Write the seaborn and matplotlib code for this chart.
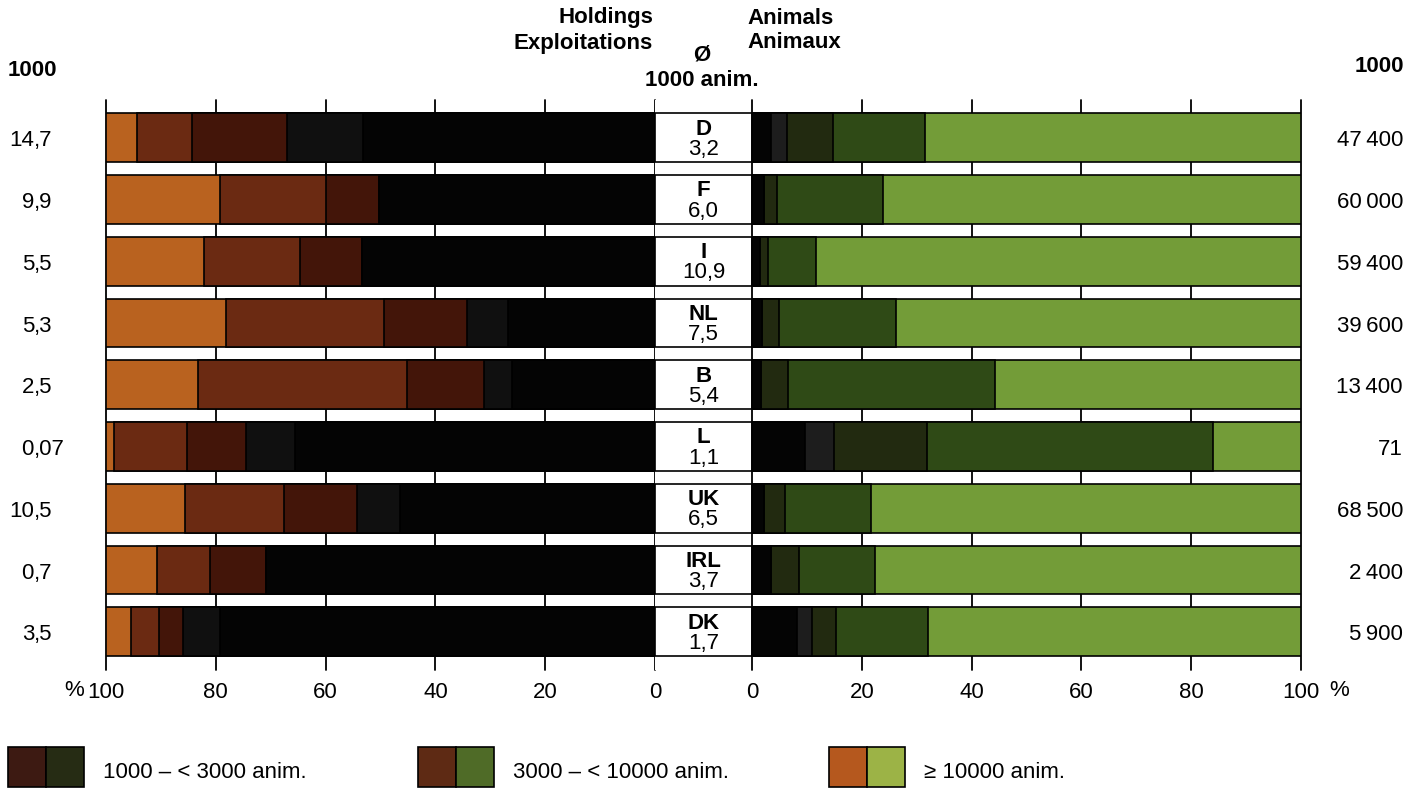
import numpy as np
import pandas as pd
import seaborn as sns
import matplotlib.pyplot as plt
from matplotlib.transforms import blended_transform_factory
from matplotlib.patches import Rectangle

# Laender und Kennzahlen
countries = ['D', 'F', 'I', 'NL', 'B', 'L', 'UK', 'IRL', 'DK']
avg_animals = ['3,2', '6,0', '10,9', '7,5', '5,4', '1,1', '6,5', '3,7', '1,7']
holdings_1000 = ['14,7', '9,9', '5,5', '5,3', '2,5', '0,07', '10,5', '0,7', '3,5']
animals_1000 = ['47\u2009400', '60\u2009000', '59\u2009400', '39\u2009600', '13\u2009400',
                '71', '68\u2009500', '2\u2009400', '5\u2009900']

# Holdings / Exploitations in % (vom Zentrum nach aussen)
hold_black = [53.2, 50.3, 53.3, 26.8, 26.0, 65.5, 46.4, 70.9, 79.3]
hold_grey = [13.9, 0.0, 0.0, 7.5, 5.1, 9.0, 7.8, 0.0, 6.6]
hold_1000 = [17.2, 9.7, 11.3, 15.0, 14.1, 10.8, 13.4, 10.1, 4.4]
hold_3000 = [10.0, 19.2, 17.5, 28.8, 38.0, 13.2, 18.1, 9.8, 5.1]
hold_10000 = [5.7, 20.8, 17.9, 21.9, 16.8, 1.5, 14.3, 9.2, 4.6]

# Animals / Animaux in %
anim_black = [3.4, 2.1, 1.4, 1.8, 1.6, 9.7, 2.2, 3.4, 8.2]
anim_grey = [3.0, 0.0, 0.0, 0.0, 0.0, 5.3, 0.0, 0.0, 2.7]
anim_1000 = [8.4, 2.4, 1.5, 3.1, 4.9, 16.8, 3.9, 5.1, 4.4]
anim_3000 = [16.8, 19.3, 8.7, 21.4, 37.7, 52.1, 15.6, 13.9, 16.7]
anim_10000 = [68.4, 76.2, 88.4, 73.7, 55.8, 16.1, 78.3, 77.6, 68.0]

pct_ticks = [0, 20, 40, 60, 80, 100]
legend_labels = ['1000 \u2013 < 3000 anim.', '3000 \u2013 < 10000 anim.', '\u2265 10000 anim.']

cols_left = ['#040404', '#101010', '#431509', '#6b2a12', '#b9621f']
cols_right = ['#040404', '#1d1d1d', '#222a10', '#2f4a16', '#739c38']
leg_left = ['#3d1a12', '#5e2a14', '#b5581e']
leg_right = ['#262c14', '#4f6b27', '#9cb346']

sns.set_style('white')
plt.rcParams['font.family'] = ['Liberation Sans', 'DejaVu Sans']
plt.rcParams['text.color'] = 'black'
plt.rcParams['xtick.color'] = 'black'
plt.rcParams['xtick.labelcolor'] = 'black'

W, H = 1418, 791
fig = plt.figure(figsize=(W / 100, H / 100), dpi=100)


def px(x, y, w, h):
    return [x / W, 1 - (y + h) / H, w / W, h / H]


ax_l = fig.add_axes(px(106, 100, 549, 570))
ax_m = fig.add_axes(px(655, 100, 97, 570))
ax_r = fig.add_axes(px(752, 100, 549, 570))

hold = pd.DataFrame({'land': countries, 'a': hold_black, 'b': hold_grey,
                     'c': hold_1000, 'd': hold_3000, 'e': hold_10000}).set_index('land')
anim = pd.DataFrame({'land': countries, 'a': anim_black, 'b': anim_grey,
                     'c': anim_1000, 'd': anim_3000, 'e': anim_10000}).set_index('land')


def stacked(ax, df, colors):
    cum = df.cumsum(axis=1)
    # aeusserstes Segment zuerst, dann die inneren darueber
    for col, c in zip(reversed(df.columns), reversed(colors)):
        sns.barplot(x=cum[col].values, y=countries, order=countries, orient='h',
                    color=c, width=0.79, edgecolor='black', linewidth=1.2,
                    saturation=1, ax=ax)


stacked(ax_l, hold, cols_left)
stacked(ax_r, anim, cols_right)

sns.barplot(x=[1] * len(countries), y=countries, order=countries, orient='h',
            color='white', width=0.79, edgecolor='black', linewidth=1.2,
            saturation=1, ax=ax_m)

ylim = (8.62, -0.61)
for ax in (ax_l, ax_m, ax_r):
    ax.set_ylim(*ylim)
    ax.set_ylabel('')
    ax.set_xlabel('')
    ax.set_yticks([])
    sns.despine(ax=ax, left=True, bottom=True)

ax_l.set_xlim(100, 0)
ax_r.set_xlim(0, 100)
ax_m.set_xlim(0, 1)
ax_m.set_xticks([])

for ax in (ax_l, ax_r):
    ax.set_xticks(pct_ticks)
    ax.set_xticklabels([str(t) for t in pct_ticks], fontsize=16, color='black')
    ax.tick_params(axis='x', length=0, pad=9)
    ax.grid(axis='x', color='black', linewidth=1.3)
    ax.set_axisbelow(True)
    for gl in ax.get_xgridlines():
        gl.set_clip_on(False)

for i, (code, val) in enumerate(zip(countries, avg_animals)):
    ax_m.text(0.5, i - 0.14, code, ha='center', va='center', fontsize=16, fontweight='bold')
    ax_m.text(0.5, i + 0.19, val, ha='center', va='center', fontsize=16)

tr = blended_transform_factory(fig.transFigure, ax_l.transData)
for i, (h, a) in enumerate(zip(holdings_1000, animals_1000)):
    whole, frac = h.split(',')
    ax_l.text(34 / W, i + 0.05, whole, ha='right', va='center', fontsize=16, transform=tr)
    ax_l.text(34 / W, i + 0.05, ',' + frac, ha='left', va='center', fontsize=16, transform=tr)
    ax_l.text(1403 / W, i + 0.05, a, ha='right', va='center', fontsize=16, transform=tr)

# Kopfzeilen
fig.text(8 / W, 1 - 70 / H, '1000', ha='left', va='center', fontsize=16, fontweight='bold')
fig.text(1404 / W, 1 - 67 / H, '1000', ha='right', va='center', fontsize=16, fontweight='bold')
fig.text(653 / W, 1 - 18 / H, 'Holdings', ha='right', va='center', fontsize=16, fontweight='bold')
fig.text(653 / W, 1 - 43 / H, 'Exploitations', ha='right', va='center', fontsize=16, fontweight='bold')
fig.text(747 / W, 1 - 18 / H, 'Animals', ha='left', va='center', fontsize=16, fontweight='bold')
fig.text(747 / W, 1 - 43 / H, 'Animaux', ha='left', va='center', fontsize=16, fontweight='bold')
fig.text(702 / W, 1 - 55 / H, '\u00d8', ha='center', va='center', fontsize=16, fontweight='bold')
fig.text(702 / W, 1 - 80 / H, '1000 anim.', ha='center', va='center', fontsize=16, fontweight='bold')

fig.text(84 / W, 1 - 691 / H, '%', ha='right', va='center', fontsize=16)
fig.text(1329 / W, 1 - 691 / H, '%', ha='left', va='center', fontsize=16)

# Legende
leg_x = [8, 418, 829]
for lx, lab, cl, cr in zip(leg_x, legend_labels, leg_left, leg_right):
    fig.patches.append(Rectangle((lx / W, 1 - 787 / H), 38 / W, 40 / H, transform=fig.transFigure,
                                 facecolor=cl, edgecolor='black', linewidth=1.2))
    fig.patches.append(Rectangle(((lx + 38) / W, 1 - 787 / H), 38 / W, 40 / H, transform=fig.transFigure,
                                 facecolor=cr, edgecolor='black', linewidth=1.2))
    fig.text((lx + 95) / W, 1 - 772 / H, lab, ha='left', va='center', fontsize=16)

plt.savefig('out.png', dpi=100)
